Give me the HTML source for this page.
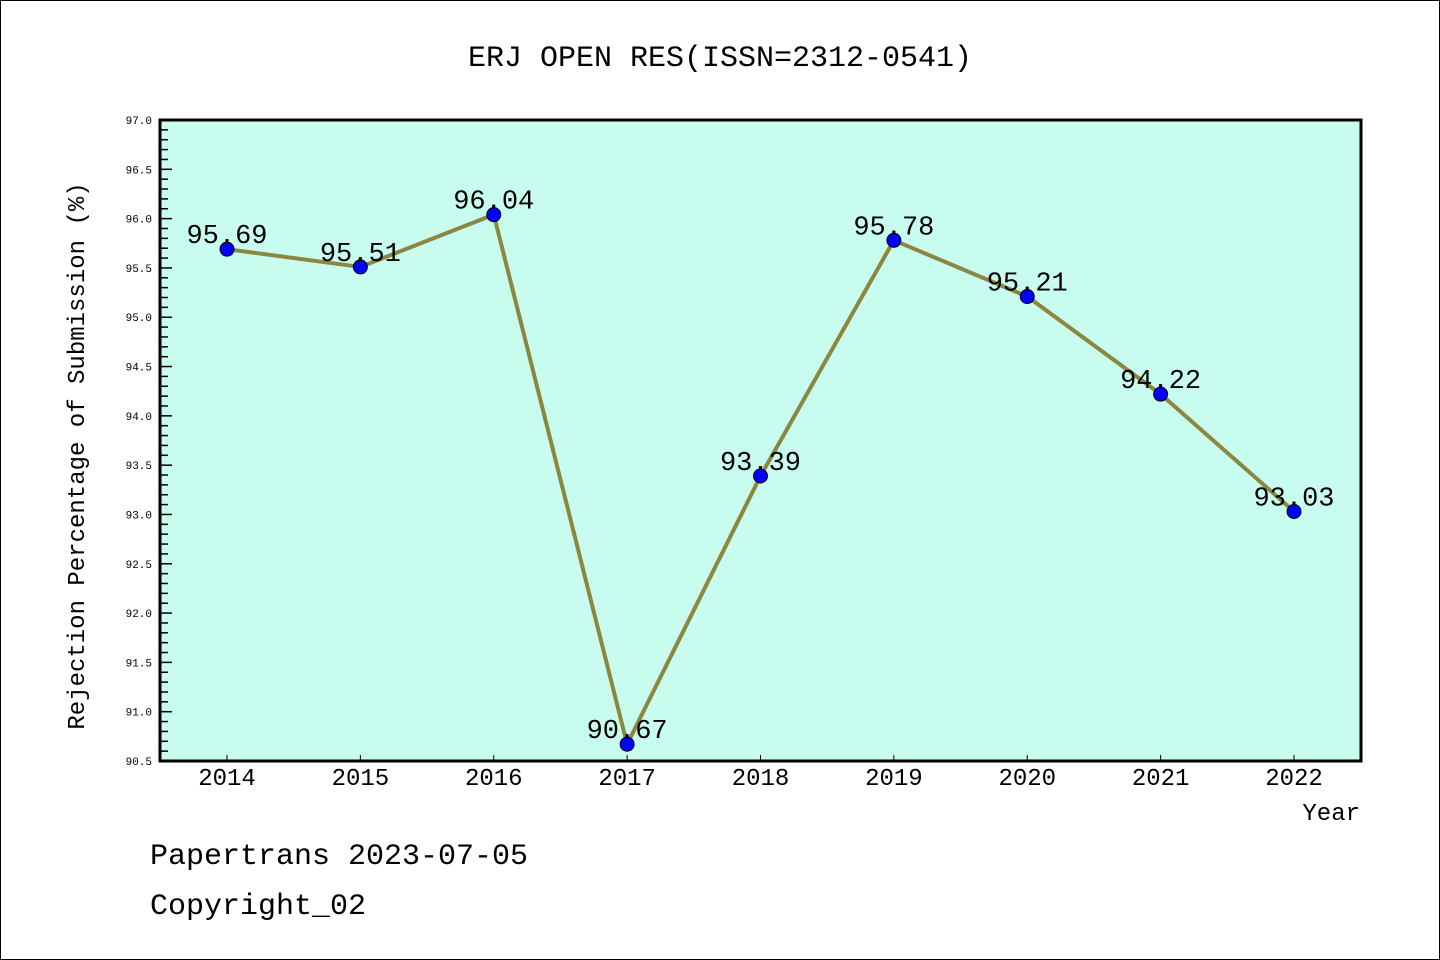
<!DOCTYPE html>
<html><head><meta charset="utf-8"><style>
html,body{margin:0;padding:0;background:#fff;}
svg{display:block;font-family:"Liberation Mono","DejaVu Sans Mono",monospace;}
</style></head><body>
<svg id="chart" width="1440" height="960" viewBox="0 0 1440 960">
<rect x="0.5" y="0.5" width="1439" height="959" fill="#fff" stroke="#000" stroke-width="1"/>
<text x="720" y="66" font-size="30" text-anchor="middle">ERJ OPEN RES(ISSN=2312-0541)</text>
<rect x="160" y="120" width="1201" height="641" fill="#c8fcee"/>
<g id="axes"></g>
<g id="series"></g>
<rect x="160" y="120" width="1201" height="641" fill="none" stroke="#000" stroke-width="3"/>
<text x="84" y="456" font-size="24" text-anchor="middle" transform="rotate(-90 84 456)">Rejection Percentage of Submission (%)</text>
<text x="1360" y="820" font-size="24" text-anchor="end">Year</text>
<text x="150" y="864" font-size="30">Papertrans 2023-07-05</text>
<text x="150" y="914" font-size="30">Copyright_02</text>
</svg>
<script>
const years = [2014,2015,2016,2017,2018,2019,2020,2021,2022];
const values = [95.69,95.51,96.04,90.67,93.39,95.78,95.21,94.22,93.03];
const valueLabels = ["95.69","95.51","96.04","90.67","93.39","95.78","95.21","94.22","93.03"];
const yTickLabels = ["90.5","91.0","91.5","92.0","92.5","93.0","93.5","94.0","94.5","95.0","95.5","96.0","96.5","97.0"];
const NS="http://www.w3.org/2000/svg";
const yMin=90.5,yMax=97.0,yTop=120,yBot=761;
function yS(v){return yBot-(v-yMin)/(yMax-yMin)*(yBot-yTop);}
function xS(i){return 227+i*(1294-227)/(years.length-1);}
const axes=document.getElementById('axes'),ser=document.getElementById('series');
function mk(t,a,p){const e=document.createElementNS(NS,t);for(const k in a)e.setAttribute(k,a[k]);p.appendChild(e);return e;}
for(let k=0;k<=65;k++){
  const v=yMin+k*0.1,y=yS(v),major=k%5===0;
  const t=mk('line',{x1:160,x2:160+(major?12:8),y1:y,y2:y,stroke:'#000','stroke-width':1.5},axes);
  
  
}
yTickLabels.forEach(s=>{
  const t=mk('text',{x:152,y:yS(parseFloat(s))+4,'font-size':11,'text-anchor':'end',fill:'#000'},axes);
  t.textContent=s;
  
  
});
years.forEach((yr,i)=>{
  const l=mk('line',{x1:xS(i),x2:xS(i),y1:yBot,y2:yBot-6,stroke:'#000','stroke-width':1},axes);
  
  
  const t=mk('text',{x:xS(i),y:785,'font-size':24,'text-anchor':'middle'},axes);
  t.textContent=yr;
  
  
});
const pts=values.map((v,i)=>xS(i)+','+yS(v)).join(' ');
const pl=mk('polyline',{points:pts,fill:'none',stroke:'#8b8640','stroke-width':4,'stroke-linejoin':'round'},ser);


values.forEach((v,i)=>{
  const c=mk('circle',{cx:xS(i),cy:yS(v),r:7,fill:'#0000ff',stroke:'#000','stroke-width':1},ser);
  
  
  const t=mk('text',{x:xS(i),y:yS(v)-6,'font-size':27,'text-anchor':'middle'},ser);
  t.textContent=valueLabels[i];
  
  
});
</script>
</body></html>
